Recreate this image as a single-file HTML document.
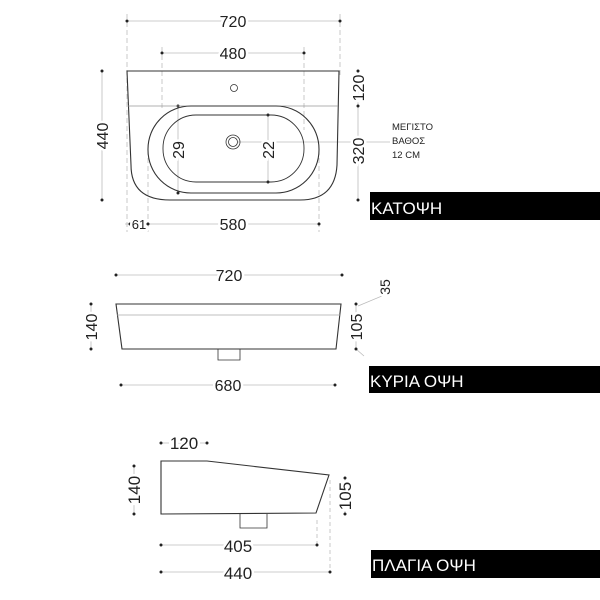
<!DOCTYPE html>
<html><head><style>
html,body{margin:0;padding:0;background:#fff;width:600px;height:600px;overflow:hidden}
svg text{font-family:"Liberation Sans","DejaVu Sans",sans-serif;fill:#222}
.d text{paint-order:stroke;stroke:#fff;stroke-width:5px}
</style></head><body>
<svg width="600" height="600" viewBox="0 0 600 600" xmlns="http://www.w3.org/2000/svg">
<g stroke="#bbb" stroke-width="0.8" fill="none">
 <line x1="127" y1="14" x2="127" y2="232" stroke-dasharray="5,3"/>
 <line x1="340" y1="14" x2="340" y2="75" stroke-dasharray="5,3"/>
 <line x1="162" y1="47" x2="162" y2="110" stroke-dasharray="5,3"/>
 <line x1="304" y1="47" x2="304" y2="130" stroke-dasharray="5,3"/>
 <line x1="148" y1="150" x2="148" y2="232" stroke-dasharray="5,3"/>
 <line x1="319" y1="150" x2="319" y2="232" stroke-dasharray="5,3"/>
 <line x1="238" y1="142" x2="390" y2="142"/>
 <line x1="127" y1="21" x2="340" y2="21"/>
 <line x1="162" y1="53" x2="304" y2="53"/>
 <line x1="102" y1="71" x2="102" y2="200"/>
 <line x1="358" y1="71" x2="358" y2="200"/>
 <line x1="125" y1="224" x2="319" y2="224"/>
 <line x1="178" y1="106" x2="178" y2="193"/>
 <line x1="268" y1="115" x2="268" y2="182"/>
 <line x1="116" y1="275" x2="342" y2="275"/>
 <line x1="121" y1="385" x2="335" y2="385"/>
 <line x1="91" y1="304" x2="91" y2="349"/>
 <line x1="356" y1="304" x2="356" y2="349"/>
 <line x1="358" y1="306" x2="382" y2="296"/>
 <line x1="356" y1="349" x2="364" y2="356"/>
 <line x1="161" y1="443" x2="207" y2="443"/>
 <line x1="161" y1="545" x2="317" y2="545"/>
 <line x1="161" y1="572" x2="330" y2="572"/>
 <line x1="134" y1="466" x2="134" y2="514"/>
 <line x1="345" y1="478" x2="345" y2="514"/>
 <line x1="330" y1="480" x2="330" y2="572" stroke-dasharray="4,3"/>
 <line x1="317" y1="520" x2="317" y2="545" stroke-dasharray="4,3"/>
</g>
<g fill="#222">
 <circle cx="127" cy="21" r="1.5"/><circle cx="340" cy="21" r="1.5"/>
 <circle cx="162" cy="53" r="1.5"/><circle cx="304" cy="53" r="1.5"/>
 <circle cx="102" cy="71" r="1.5"/><circle cx="102" cy="200" r="1.5"/>
 <circle cx="358" cy="71" r="1.5"/><circle cx="358" cy="106" r="1.5"/><circle cx="358" cy="200" r="1.5"/>
 <circle cx="130" cy="224" r="1.5"/><circle cx="148" cy="224" r="1.5"/><circle cx="319" cy="224" r="1.5"/>
 <circle cx="178" cy="106" r="1.5"/><circle cx="178" cy="193" r="1.5"/>
 <circle cx="268" cy="115" r="1.5"/><circle cx="268" cy="182" r="1.5"/>
 <circle cx="116" cy="275" r="1.5"/><circle cx="342" cy="275" r="1.5"/>
 <circle cx="121" cy="385" r="1.5"/><circle cx="335" cy="385" r="1.5"/>
 <circle cx="91" cy="304" r="1.5"/><circle cx="91" cy="349" r="1.5"/>
 <circle cx="356" cy="304" r="1.5"/><circle cx="356" cy="315" r="1.5"/><circle cx="356" cy="349" r="1.5"/>
 <circle cx="161" cy="443" r="1.5"/><circle cx="207" cy="443" r="1.5"/>
 <circle cx="161" cy="545" r="1.5"/><circle cx="317" cy="545" r="1.5"/>
 <circle cx="161" cy="572" r="1.5"/><circle cx="330" cy="572" r="1.5"/>
 <circle cx="134" cy="466" r="1.5"/><circle cx="134" cy="514" r="1.5"/>
 <circle cx="345" cy="478" r="1.5"/><circle cx="345" cy="514" r="1.5"/>
</g>
<g stroke="#333" stroke-width="1.1" fill="none">
 <path d="M127 71 L339 71 L337 165 Q335 200 300 200 L170 200 Q131 200 131 165 Z"/>
 <line x1="128" y1="106" x2="338" y2="106" stroke="#999" stroke-width="0.8"/>
 <rect x="148" y="106" width="171" height="87" rx="43" ry="43"/>
 <rect x="163" y="115" width="141" height="67" rx="33" ry="33" stroke-width="0.9"/>
 <circle cx="233" cy="142" r="7" stroke-width="0.8"/>
 <circle cx="233" cy="142" r="4.5" stroke-width="0.8"/>
 <circle cx="234" cy="88" r="3.5" stroke-width="0.8"/>
 <path d="M116 304 L341 304 L336 349 L122 349 Z"/>
 <line x1="117" y1="315" x2="340" y2="315" stroke="#aaa" stroke-width="0.8"/>
 <path d="M218 349 L218 360 L240 360 L240 349" stroke-width="0.8"/>
 <path d="M161 461 L207 461 L329 475 L316 513 L161 514 Z"/>
 <path d="M240 514 L240 528 L267 528 L267 514" stroke-width="0.8"/>
</g>
<g class="d" font-size="16" text-anchor="middle">
 <text x="233" y="27">720</text>
 <text x="233" y="59">480</text>
 <text x="233" y="230">580</text>
 <text x="139" y="229" font-size="13">61</text>
 <text x="229" y="281">720</text>
 <text x="228" y="391">680</text>
 <text x="184" y="449" font-size="17">120</text>
 <text x="238" y="552" font-size="17">405</text>
 <text x="238" y="579" font-size="17">440</text>
 <text transform="translate(108,136) rotate(-90)">440</text>
 <text transform="translate(364,88) rotate(-90)">120</text>
 <text transform="translate(364,151) rotate(-90)">320</text>
 <text transform="translate(184,150) rotate(-90)">29</text>
 <text transform="translate(274,150) rotate(-90)">22</text>
 <text transform="translate(97,327) rotate(-90)">140</text>
 <text transform="translate(362,327) rotate(-90)">105</text>
 <text transform="translate(390,287) rotate(-90)" font-size="14">35</text>
 <text transform="translate(140,490) rotate(-90)" font-size="17">140</text>
 <text transform="translate(351,496) rotate(-90)" font-size="17">105</text>
</g>
<g font-size="9.5">
 <text x="392" y="130">ΜΕΓΙΣΤΟ</text>
 <text x="392" y="144">ΒΑΘΟΣ</text>
 <text x="392" y="158">12 CM</text>
</g>
<rect x="370" y="192" width="230" height="28" fill="#000"/>
<rect x="369" y="366" width="231" height="27" fill="#000"/>
<rect x="371" y="550" width="229" height="28" fill="#000"/>
<g font-size="17">
 <text x="371" y="214" style="fill:#fff">ΚΑΤΟΨΗ</text>
 <text x="370" y="387" style="fill:#fff">ΚΥΡΙΑ ΟΨΗ</text>
 <text x="372" y="571" style="fill:#fff">ΠΛΑΓΙΑ ΟΨΗ</text>
</g>
</svg>
</body></html>
